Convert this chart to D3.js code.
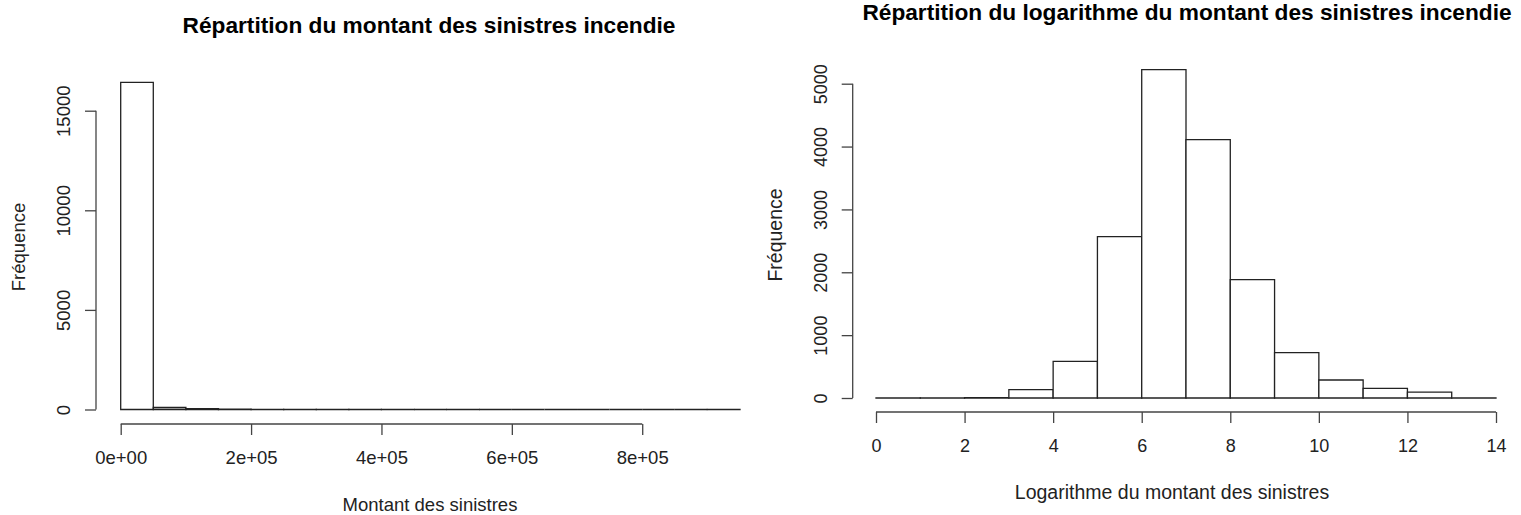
<!DOCTYPE html>
<html>
<head>
<meta charset="utf-8">
<script src="https://cdn.jsdelivr.net/npm/d3@7"></script>
<style>
  body { margin: 0; background: #fff; }
  svg { display: block; font-family: "Liberation Sans", Arial, sans-serif; }
  .axis path, .axis line { stroke: #444; stroke-width: 1.3; }
  .axis text { fill: #222; }
</style>
</head>
<body>
<svg width="1521" height="515"></svg>
<script>
// histogram of claim amounts (bins of 50 000)
var amountBins = [0, 50000, 100000, 150000, 200000, 250000, 300000, 350000, 400000, 450000,
                  500000, 550000, 600000, 650000, 700000, 750000, 800000, 850000, 900000];
var amountCounts = [16426, 100, 45, 12, 6, 3, 2, 1, 1, 0, 1, 0, 0, 0, 0, 0, 0, 0, 1];
var amountWidth = 50000;
var amountXTicks = [0, 200000, 400000, 600000, 800000];
var amountXLabels = ["0e+00", "2e+05", "4e+05", "6e+05", "8e+05"];
var amountYTicks = [0, 5000, 10000, 15000];

// histogram of log(claim amount) (bins of 1)
var logBins = [0, 1, 2, 3, 4, 5, 6, 7, 8, 9, 10, 11, 12, 13];
var logCounts = [2, 1, 6, 132, 584, 2566, 5223, 4109, 1882, 721, 286, 154, 95, 3];
var logWidth = 1;
var logXTicks = [0, 2, 4, 6, 8, 10, 12, 14];
var logYTicks = [0, 1000, 2000, 3000, 4000, 5000];

var svg = d3.select("svg");

function barPath(x, y, x0, x1, v) {
    // path rather than rect so that empty bins still draw a flat line
    return "M" + x(x0) + "," + y(0) + "V" + y(v) + "H" + x(x1) + "V" + y(0) + "Z";
}

function histogram(opt) {
    var x = d3.scaleLinear().domain(opt.xDomain).range(opt.xRange);
    var y = d3.scaleLinear().domain(opt.yDomain).range(opt.yRange);

    svg.append("g")
        .selectAll("path")
        .data(opt.bins)
        .enter().append("path")
        .attr("d", function(d, i) { return barPath(x, y, d, d + opt.binWidth, opt.counts[i]); })
        .attr("fill", "#fff")
        .attr("stroke", "#222")
        .attr("stroke-width", 1.3);

    // x axis, drawn below the bars like R does
    var xa = svg.append("g")
        .attr("class", "axis")
        .attr("transform", "translate(0," + opt.xAxisY + ")")
        .call(d3.axisBottom(x)
            .tickValues(opt.xTicks)
            .tickSize(11)
            .tickSizeOuter(0)
            .tickPadding(opt.xPad)
            .tickFormat(function(d, i) { return opt.xLabels ? opt.xLabels[i] : d; }));
    xa.select(".domain").attr("d", "M" + x(opt.xTicks[0]) + ",0H" + x(opt.xTicks[opt.xTicks.length - 1]));
    xa.selectAll("text").attr("font-size", opt.tickFont);

    var ya = svg.append("g")
        .attr("class", "axis")
        .attr("transform", "translate(" + opt.yAxisX + ",0)")
        .call(d3.axisLeft(y)
            .tickValues(opt.yTicks)
            .tickSize(11)
            .tickSizeOuter(0)
            .tickFormat(d3.format("d")));
    ya.select(".domain").attr("d", "M0," + y(opt.yTicks[0]) + "V" + y(opt.yTicks[opt.yTicks.length - 1]));
    // R style: labels parallel to the axis
    ya.selectAll("text")
        .attr("font-size", opt.tickFont)
        .attr("transform", "rotate(-90)")
        .attr("x", 0)
        .attr("y", -opt.yPad)
        .attr("dy", "0")
        .attr("text-anchor", "middle");

    svg.append("text")
        .attr("x", opt.titleX)
        .attr("y", opt.titleY)
        .attr("text-anchor", "middle")
        .attr("font-weight", "bold")
        .attr("font-size", 22.7)
        .attr("fill", "#000")
        .text(opt.title);

    svg.append("text")
        .attr("x", opt.xLabelX)
        .attr("y", opt.xLabelY)
        .attr("text-anchor", "middle")
        .attr("font-size", opt.labelFont)
        .attr("fill", "#222")
        .text(opt.xLabel);

    svg.append("text")
        .attr("transform", "translate(" + opt.yLabelX + "," + opt.yLabelY + ") rotate(-90)")
        .attr("text-anchor", "middle")
        .attr("font-size", opt.labelFont)
        .attr("fill", "#222")
        .text("Fréquence");
}

histogram({
    bins: amountBins, counts: amountCounts, binWidth: amountWidth,
    xDomain: [0, 950000], xRange: [120.7, 740],
    yDomain: [0, 15000], yRange: [409.5, 110.7],
    xTicks: amountXTicks, xLabels: amountXLabels, yTicks: amountYTicks,
    xAxisY: 424, yAxisX: 96, xPad: 16, yPad: 26, tickFont: 18.5, labelFont: 18.5,
    title: "Répartition du montant des sinistres incendie", titleX: 429, titleY: 33,
    xLabel: "Montant des sinistres", xLabelX: 430, xLabelY: 511,
    yLabelX: 25, yLabelY: 247
});

histogram({
    bins: logBins, counts: logCounts, binWidth: logWidth,
    xDomain: [0, 14], xRange: [876, 1496],
    yDomain: [0, 5000], yRange: [398, 83.7],
    xTicks: logXTicks, xLabels: null, yTicks: logYTicks,
    xAxisY: 412, yAxisX: 852.7, xPad: 16, yPad: 26, tickFont: 18, labelFont: 19.5,
    title: "Répartition du logarithme du montant des sinistres incendie", titleX: 1187, titleY: 20,
    xLabel: "Logarithme du montant des sinistres", xLabelX: 1172, xLabelY: 499,
    yLabelX: 782, yLabelY: 235
});
</script>
</body>
</html>
